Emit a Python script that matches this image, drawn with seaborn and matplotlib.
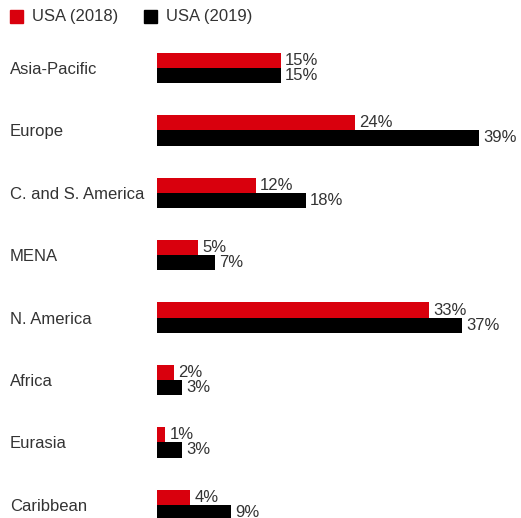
import pandas as pd
import matplotlib.pyplot as plt
import seaborn as sns

regions = ['Asia-Pacific', 'Europe', 'C. and S. America', 'MENA',
           'N. America', 'Africa', 'Eurasia', 'Caribbean']
usa_2018 = [15, 24, 12, 5, 33, 2, 1, 4]
usa_2019 = [15, 39, 18, 7, 37, 3, 3, 9]
series = ['USA (2018)', 'USA (2019)']
colors = ['#d9000d', '#000000']

df = pd.DataFrame({
    'region': regions * 2,
    'share': usa_2018 + usa_2019,
    'year': [series[0]] * len(regions) + [series[1]] * len(regions),
})

sns.set_style('white')
plt.rcParams['font.family'] = ['Liberation Sans', 'DejaVu Sans']
text_col = '#333333'
fs = 12

W, H = 521, 518
fig = plt.figure(figsize=(W / 100, H / 100), dpi=100)
x0 = 157
ax = fig.add_axes([x0 / W, 0, (W - x0) / W, 1])

sns.barplot(data=df, y='region', x='share', hue='year', palette=colors,
            orient='h', width=0.485, saturation=1, legend=False,
            linewidth=0, ax=ax)

# pixel-based scales
px_per_pct = 8.25
ax.set_xlim(0, (W - x0) / px_per_pct)
step = 62.4
ax.set_ylim((H - 68) / step, -68 / step)

for cont in ax.containers:
    ax.bar_label(cont, labels=[f'{v:.0f}%' for v in cont.datavalues],
                 padding=3, fontsize=fs, color=text_col)

ax.set_xlabel('')
ax.set_ylabel('')
ax.set_xticks([])
ax.tick_params(axis='y', length=0, pad=105.8, labelsize=fs, labelcolor=text_col)
for lbl in ax.get_yticklabels():
    lbl.set_ha('left')
for s in ax.spines.values():
    s.set_visible(False)

# legend
for i, (name, c) in enumerate(zip(series, colors)):
    lx = [10, 144][i]
    fig.patches.append(plt.Rectangle((lx / W, 1 - 23 / H), 13 / W, 13 / H,
                                     transform=fig.transFigure, color=c))
    fig.text((lx + 22) / W, 1 - 16.5 / H, name, fontsize=fs, color=text_col,
             va='center', ha='left')

fig.savefig('out.png', dpi=100)
